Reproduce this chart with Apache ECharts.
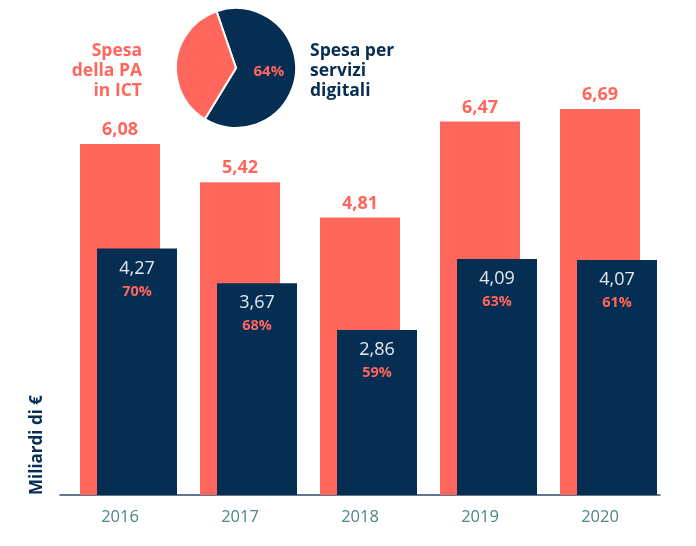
<!DOCTYPE html>
<html>
<head>
<meta charset="utf-8">
<script src="https://cdn.jsdelivr.net/npm/echarts@6/dist/echarts.min.js"></script>
<style>
  html, body { margin: 0; padding: 0; background: #fff; }
  #chart { width: 696px; height: 546px; }
</style>
</head>
<body>
<div id="chart"></div>
<script>
// Data
const years = ['2016', '2017', '2018', '2019', '2020'];
const spesaICT = [6.08, 5.42, 4.81, 6.47, 6.69];      // Spesa della PA in ICT
const spesaDigitali = [4.27, 3.67, 2.86, 4.09, 4.07]; // Spesa per servizi digitali
const quotaDigitali = [70, 68, 59, 63, 61];           // % digitali su ICT
const pieShare = [64, 36];                            // digitali / resto

const SALMON = '#ff665c';
const NAVY = '#062d52';
const FONT = 'Open Sans';

const fmt = v => v.toFixed(2).replace('.', ',');

const chart = echarts.init(document.getElementById('chart'));

chart.setOption({
  animation: false,
  textStyle: { fontFamily: FONT },
  grid: [
    { left: 60, right: 36, top: 91, bottom: 51 },
    { left: 77, right: 19, top: 91, bottom: 51 }
  ],
  xAxis: [
    {
      type: 'category',
      data: years,
      gridIndex: 0,
      axisLine: { lineStyle: { color: '#2c4a6a', width: 1.5 } },
      axisTick: { show: false },
      axisLabel: { color: '#4d8587', fontSize: 16.5, margin: 14, fontFamily: FONT }
    },
    { type: 'category', data: years, gridIndex: 1, show: false }
  ],
  yAxis: [
    { type: 'value', min: 0, max: 7, gridIndex: 0, show: false },
    { type: 'value', min: 0, max: 7, gridIndex: 1, show: false }
  ],
  series: [
    {
      name: 'Spesa della PA in ICT',
      type: 'bar',
      xAxisIndex: 0,
      yAxisIndex: 0,
      data: spesaICT,
      barWidth: 80,
      itemStyle: { color: SALMON },
      label: {
        show: true,
        position: 'top',
        distance: 5,
        color: SALMON,
        fontSize: 18,
        fontWeight: 'bold',
        formatter: p => fmt(p.value)
      }
    },
    {
      name: 'Spesa per servizi digitali',
      type: 'bar',
      xAxisIndex: 1,
      yAxisIndex: 1,
      data: spesaDigitali,
      barWidth: 80,
      itemStyle: { color: NAVY },
      label: {
        show: true,
        position: 'insideTop',
        distance: 8,
        formatter: p => `{v|${fmt(p.value)}}\n{p|${quotaDigitali[p.dataIndex]}%}`,
        rich: {
          v: { color: '#e4e9f0', fontSize: 18, lineHeight: 24, fontFamily: FONT },
          p: { color: SALMON, fontSize: 14.5, fontWeight: 'bold', lineHeight: 22, fontFamily: FONT }
        }
      }
    },
    {
      type: 'pie',
      center: [236, 68],
      radius: 60,
      startAngle: 109,
      clockwise: true,
      silent: true,
      itemStyle: { borderColor: '#fff', borderWidth: 2 },
      labelLine: { show: false },
      data: [
        {
          value: pieShare[0],
          itemStyle: { color: NAVY },
          label: {
            show: true,
            position: 'inside',
            color: SALMON,
            fontSize: 15,
            fontWeight: 'bold',
            formatter: p => p.value + '%'
          }
        },
        { value: pieShare[1], itemStyle: { color: SALMON }, label: { show: false } }
      ]
    }
  ],
  graphic: [
    {
      type: 'text',
      x: 142,
      y: 71,
      style: {
        text: 'Spesa\ndella PA\nin ICT',
        fill: SALMON,
        font: `bold 17.5px "${FONT}"`,
        lineHeight: 20,
        align: 'right',
        verticalAlign: 'middle'
      }
    },
    {
      type: 'text',
      x: 310,
      y: 71,
      style: {
        text: 'Spesa per\nservizi\ndigitali',
        fill: NAVY,
        font: `bold 17.5px "${FONT}"`,
        lineHeight: 20,
        align: 'left',
        verticalAlign: 'middle'
      }
    },
    {
      type: 'text',
      x: 37,
      y: 445,
      rotation: Math.PI / 2,
      style: {
        text: 'Miliardi di €',
        fill: NAVY,
        font: `bold 17px "${FONT}"`,
        align: 'center',
        verticalAlign: 'middle'
      }
    }
  ]
});
</script>
</body>
</html>
